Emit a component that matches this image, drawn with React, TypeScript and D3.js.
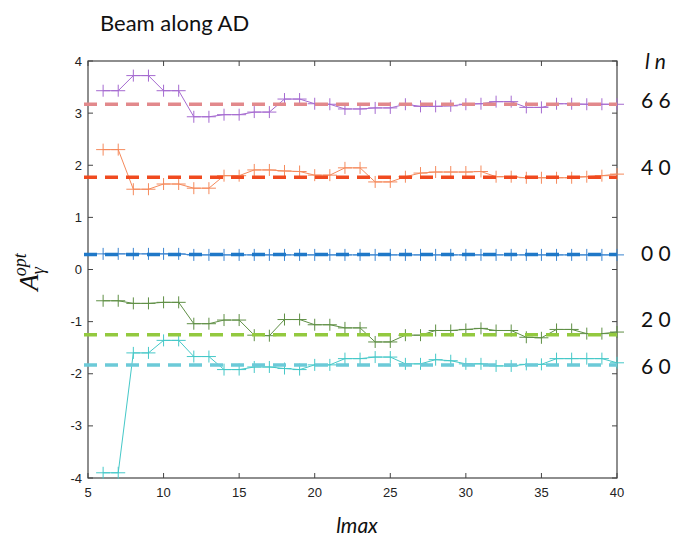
import React from "react";
import * as d3 from "d3";

const lmax = d3.range(6, 41);
const purple66 = [3.43, 3.43, 3.72, 3.72, 3.43, 3.43, 2.93, 2.93, 2.97, 2.97, 3.02, 3.02, 3.27, 3.27, 3.18, 3.17, 3.08, 3.08, 3.1, 3.1, 3.17, 3.13, 3.13, 3.14, 3.17, 3.18, 3.22, 3.22, 3.11, 3.11, 3.18, 3.18, 3.17, 3.17, 3.17];
const orange40 = [2.3, 2.3, 1.54, 1.54, 1.64, 1.64, 1.56, 1.56, 1.8, 1.8, 1.91, 1.91, 1.89, 1.88, 1.81, 1.81, 1.95, 1.95, 1.68, 1.68, 1.78, 1.85, 1.87, 1.87, 1.87, 1.88, 1.78, 1.78, 1.76, 1.76, 1.76, 1.76, 1.78, 1.8, 1.83];
const blue00 = [0.3, 0.3, 0.3, 0.3, 0.3, 0.3, 0.28, 0.28, 0.28, 0.28, 0.28, 0.28, 0.28, 0.28, 0.28, 0.28, 0.28, 0.28, 0.28, 0.28, 0.28, 0.28, 0.28, 0.28, 0.28, 0.28, 0.28, 0.28, 0.28, 0.28, 0.28, 0.28, 0.28, 0.28, 0.28];
const green20 = [-0.6, -0.6, -0.65, -0.65, -0.63, -0.63, -1.04, -1.04, -0.97, -0.97, -1.26, -1.27, -0.96, -0.96, -1.06, -1.06, -1.12, -1.12, -1.39, -1.39, -1.26, -1.26, -1.17, -1.17, -1.15, -1.13, -1.17, -1.17, -1.3, -1.31, -1.15, -1.15, -1.23, -1.23, -1.2];
const cyan60 = [-3.9, -3.9, -1.6, -1.6, -1.36, -1.36, -1.67, -1.67, -1.92, -1.92, -1.87, -1.87, -1.9, -1.92, -1.83, -1.83, -1.71, -1.71, -1.68, -1.68, -1.81, -1.81, -1.73, -1.75, -1.81, -1.81, -1.85, -1.85, -1.82, -1.82, -1.71, -1.71, -1.71, -1.71, -1.79];
const refValues = [3.17, 1.77, 0.29, -1.25, -1.83];
const seriesLabels = ["6 6", "4 0", "0 0", "2 0", "6 0"];
const xTicks = [5, 10, 15, 20, 25, 30, 35, 40];
const yTicks = [-4, -3, -2, -1, 0, 1, 2, 3, 4];

const seriesData = [purple66, orange40, blue00, green20, cyan60];
const lineColors = ["#a56ad0", "#f58a5c", "#3a84d0", "#5f8f45", "#45c8c8"];
const dashColors = ["#e2898c", "#f04a1f", "#1f78c8", "#93c93f", "#6ccad8"];

export default function App() {
  const W = 679, H = 538;
  const L = 88, R = 617, T = 61, B = 478;
  const x = d3.scaleLinear().domain([5, 40]).range([L, R]);
  const y = d3.scaleLinear().domain([-4, 4]).range([B, T]);
  const line = d3.line<number>().x((_, i) => x(lmax[i])).y((d) => y(d));
  const tick = 5;
  const labelY = [101, 168, 254, 320, 367];

  return (
    <svg width={W} height={H} style={{ position: "absolute", left: 0, top: 0, background: "#fff" }}>
      <text x={100} y={31} fontFamily="Lato, 'Open Sans', sans-serif" fontSize={22} fill="#111">Beam along AD</text>

      <rect x={L} y={T} width={R - L} height={B - T} fill="none" stroke="#444" strokeWidth={1.2} />
      {xTicks.map((t) => (
        <g key={"xt" + t}>
          <line x1={x(t)} x2={x(t)} y1={B} y2={B - tick} stroke="#444" />
          <line x1={x(t)} x2={x(t)} y1={T} y2={T + tick} stroke="#444" />
          <text x={x(t)} y={B + 19} textAnchor="middle" fontFamily="'Liberation Sans', Arial, sans-serif" fontSize={13} fill="#222">{t}</text>
        </g>
      ))}
      {yTicks.map((t) => (
        <g key={"yt" + t}>
          <line x1={L} x2={L + tick} y1={y(t)} y2={y(t)} stroke="#444" />
          <line x1={R} x2={R - tick} y1={y(t)} y2={y(t)} stroke="#444" />
          <text x={L - 6} y={y(t) + 4.5} textAnchor="end" fontFamily="'Liberation Sans', Arial, sans-serif" fontSize={13} fill="#222">{t}</text>
        </g>
      ))}

      {seriesData.map((s, k) => (
        <g key={"s" + k}>
          <path d={line(s) || ""} fill="none" stroke={lineColors[k]} strokeWidth={1} />
          {s.map((v, i) => (
            <path key={i} d={`M${x(lmax[i]) - 7},${y(v)}h14M${x(lmax[i])},${y(v) - 6}v12`} stroke={lineColors[k]} strokeWidth={1} fill="none" />
          ))}
        </g>
      ))}

      {refValues.map((v, k) => (
        <line key={"r" + k} x1={x(5) - 4} x2={x(40)} y1={y(v)} y2={y(v)} stroke={dashColors[k]} strokeWidth={3.5} strokeDasharray="13 8" />
      ))}

      <text x={645} y={69} fontFamily="Lato, 'Open Sans', sans-serif" fontStyle="italic" fontSize={21} fill="#111">l n</text>
      {seriesLabels.map((s, k) => (
        <text key={"l" + k} x={641} y={labelY[k] + 7} fontFamily="Lato, 'Open Sans', sans-serif" fontSize={21} fill="#111">{s}</text>
      ))}

      <text x={357} y={533} textAnchor="middle" fontFamily="Lato, 'Open Sans', sans-serif" fontStyle="italic" fontSize={21} fill="#111">lmax</text>
      <g transform="translate(38,272) rotate(-90)">
        <text x={0} y={0} textAnchor="middle" fontFamily="'Liberation Serif', 'DejaVu Serif', serif" fontStyle="italic" fill="#111">
          <tspan fontSize={27}>A</tspan>
          <tspan fontSize={18} dy={6}>γ</tspan>
          <tspan fontSize={18} dx={-9} dy={-18}>opt</tspan>
        </text>
      </g>
    </svg>
  );
}
